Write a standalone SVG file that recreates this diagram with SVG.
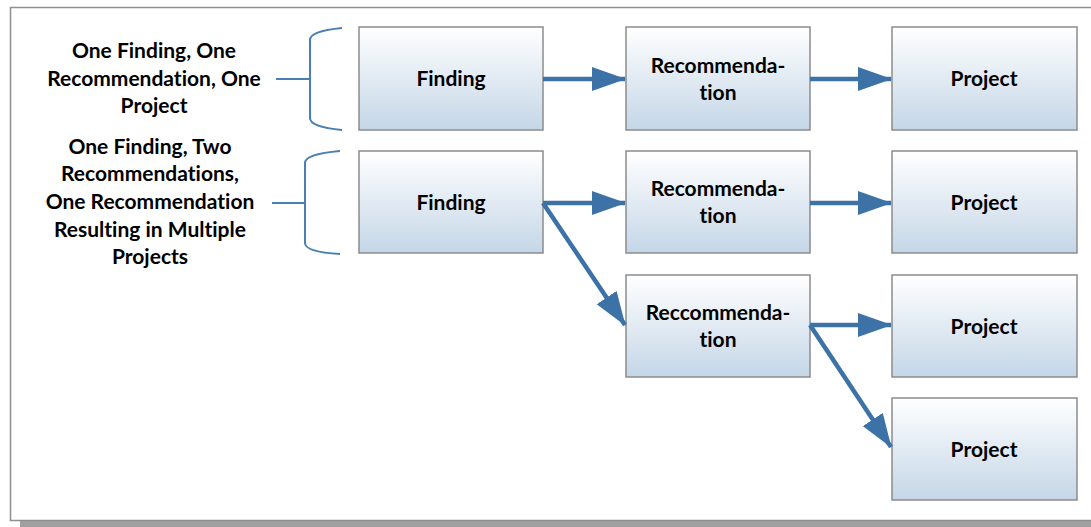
<svg xmlns="http://www.w3.org/2000/svg" width="1091" height="527" viewBox="0 0 1091 527">
  <defs>
    <linearGradient id="boxFill" x1="0" y1="0" x2="0" y2="1">
      <stop offset="0" stop-color="#ffffff"/>
      <stop offset="1" stop-color="#c4d6e7"/>
    </linearGradient>
    <marker id="head" markerUnits="userSpaceOnUse" markerWidth="34" markerHeight="24" viewBox="0 0 34 24" refX="33" refY="12" orient="auto">
      <path d="M0,0 L34,12 L0,24 Z" fill="#3d72a6"/>
    </marker>
  </defs>
  <style>
    .box { fill: url(#boxFill); stroke: #8c8c8c; stroke-width: 1.5; }
    .lbl { font-family: Lato, "Liberation Sans", sans-serif; font-weight: bold; font-size: 21px; fill: #000; text-anchor: middle; font-variant-ligatures: none; }
    .brace { fill: none; stroke: #4a7fb2; stroke-width: 2; }
    .conn { fill: none; stroke: #3d72a6; stroke-width: 4.5; marker-end: url(#head); }
  </style>

  <!-- page frame and its shadow -->
  <rect x="0" y="0" width="1091" height="527" fill="#ffffff"/>
  <rect x="20" y="521" width="1071" height="6" fill="#a0a0a0"/>
  <path d="M1091,7.5 H10.5 V520.5 H1091" fill="none" stroke="#8e8e8e" stroke-width="1.5"/>

  <!-- group captions -->
  <g id="caption-single">
    <text class="lbl" x="154" y="58">One Finding, One</text>
    <text class="lbl" x="154" y="86">Recommendation, One</text>
    <text class="lbl" x="154" y="113">Project</text>
    <path class="brace" d="M276,79 H310 M342,28 Q310,31 310,40 V118 Q310,127 342,130"/>
  </g>
  <g id="caption-multi">
    <text class="lbl" x="150" y="154">One Finding, Two</text>
    <text class="lbl" x="150" y="181">Recommendations,</text>
    <text class="lbl" x="150" y="209">One Recommendation</text>
    <text class="lbl" x="150" y="237">Resulting in Multiple</text>
    <text class="lbl" x="150" y="264">Projects</text>
    <path class="brace" d="M272,203 H305 M340,151 Q305,154 305,163 V243 Q305,252 340,254"/>
  </g>

  <!-- row 1 -->
  <g id="finding-1">
    <rect class="box" x="359" y="27" width="184" height="103"/>
    <text class="lbl" x="451" y="86">Finding</text>
  </g>
  <g id="recommendation-1">
    <rect class="box" x="626" y="27" width="184" height="103"/>
    <text class="lbl" x="718" y="73">Recommenda-</text>
    <text class="lbl" x="718" y="100">tion</text>
  </g>
  <g id="project-1">
    <rect class="box" x="892" y="27" width="185" height="103"/>
    <text class="lbl" x="984" y="86">Project</text>
  </g>

  <!-- row 2 -->
  <g id="finding-2">
    <rect class="box" x="359" y="151" width="184" height="102"/>
    <text class="lbl" x="451" y="210">Finding</text>
  </g>
  <g id="recommendation-2">
    <rect class="box" x="626" y="151" width="184" height="102"/>
    <text class="lbl" x="718" y="196">Recommenda-</text>
    <text class="lbl" x="718" y="223">tion</text>
  </g>
  <g id="project-2">
    <rect class="box" x="892" y="151" width="185" height="102"/>
    <text class="lbl" x="984" y="210">Project</text>
  </g>

  <!-- row 3 -->
  <g id="recommendation-3">
    <rect class="box" x="626" y="275" width="184" height="102"/>
    <text class="lbl" x="718" y="320">Reccommenda-</text>
    <text class="lbl" x="718" y="347">tion</text>
  </g>
  <g id="project-3">
    <rect class="box" x="892" y="275" width="185" height="102"/>
    <text class="lbl" x="984" y="334">Project</text>
  </g>

  <!-- row 4 -->
  <g id="project-4">
    <rect class="box" x="892" y="398" width="185" height="102"/>
    <text class="lbl" x="984" y="457">Project</text>
  </g>

  <!-- connectors -->
  <g id="connectors">
    <path class="conn" d="M543,79 H625"/>
    <path class="conn" d="M810,79 H891"/>
    <path class="conn" d="M543,203 H625"/>
    <path class="conn" d="M810,203 H891"/>
    <path class="conn" d="M543,203 L625,325"/>
    <path class="conn" d="M810,325 H891"/>
    <path class="conn" d="M810,325 L891,447"/>
  </g>
</svg>
